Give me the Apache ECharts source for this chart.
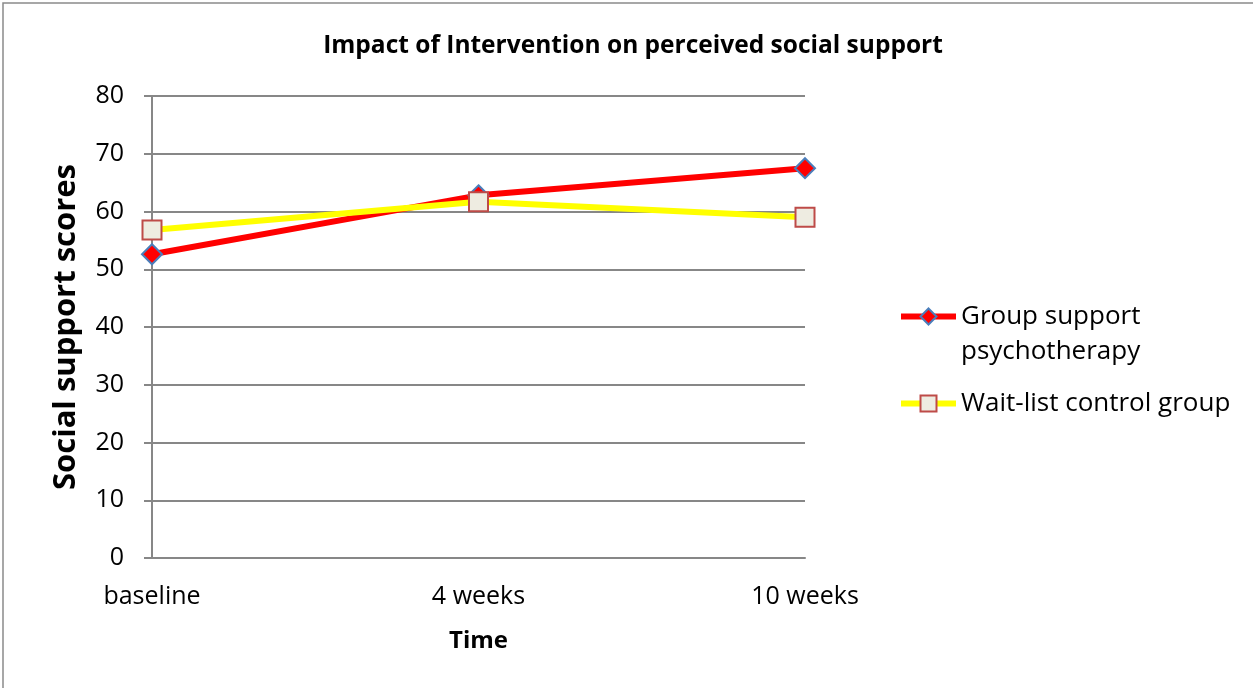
<!DOCTYPE html>
<html>
<head>
<meta charset="utf-8">
<script src="https://cdn.jsdelivr.net/npm/echarts@6/dist/echarts.min.js"></script>
<style>
  html, body { margin: 0; padding: 0; background: #fff; }
  #main { width: 1253px; height: 688px; }
</style>
</head>
<body>
<div id="main"></div>
<script>
var myChart = echarts.init(document.getElementById('main'))

var timePoints = ['baseline', '4 weeks', '10 weeks']
var groupSupport = [52.6, 62.8, 67.5]
var waitList = [56.8, 61.7, 59.0]
var seriesNames = ['Group support psychotherapy', 'Wait-list control group']

var fontName = 'Open Sans'

var option = {
  backgroundColor: '#fff',
  textStyle: { fontFamily: fontName },
  title: {
    text: 'Impact of Intervention on perceived social support',
    left: 628,
    top: 29,
    textAlign: 'center',
    textStyle: { fontSize: 24.5, fontWeight: 'bold', color: '#000', fontFamily: fontName },
  },
  graphic: [
    {
      type: 'rect',
      shape: { x: 3, y: 3, width: 1270, height: 700 },
      style: { fill: 'none', stroke: '#8a8a8a', lineWidth: 1.5 },
      silent: true,
    },
  ],
  legend: {
    orient: 'vertical',
    left: 898,
    top: 264,
    padding: 0,
    itemWidth: 55,
    itemHeight: 20,
    itemGap: 17,
    lineStyle: { width: 6 },
    data: seriesNames,
    // empty first line so the icon sits beside "Group support"
    formatter: function (name) {
      return name === seriesNames[0] ? '\nGroup support\npsychotherapy' : name
    },
    textStyle: { fontSize: 26, color: '#000', lineHeight: 35, fontFamily: fontName },
  },
  grid: { left: 152, right: 448, top: 96, bottom: 130 },
  xAxis: {
    type: 'category',
    data: timePoints,
    boundaryGap: false,
    name: 'Time',
    nameLocation: 'middle',
    nameGap: 71,
    nameTextStyle: { fontSize: 24, fontWeight: 'bold', color: '#000' },
    axisLine: { lineStyle: { color: '#878787', width: 2 } },
    axisTick: { show: false },
    axisLabel: { fontSize: 25, color: '#000', margin: 26 },
  },
  yAxis: {
    type: 'value',
    min: 0,
    max: 80,
    interval: 10,
    name: 'Social support scores',
    nameLocation: 'middle',
    nameRotate: 90,
    nameGap: 70,
    nameTextStyle: { fontSize: 31, fontWeight: 'bold', color: '#000' },
    axisLine: { show: true, lineStyle: { color: '#878787', width: 2 } },
    axisTick: { show: true, length: 8, lineStyle: { color: '#878787', width: 2 } },
    axisLabel: { fontSize: 25, color: '#000', margin: 28 },
    splitLine: { lineStyle: { color: '#878787', width: 2 } },
  },
  series: [
    {
      name: seriesNames[0],
      type: 'line',
      data: groupSupport,
      symbol: 'diamond',
      symbolSize: 20,
      lineStyle: { color: '#ff0000', width: 6 },
      itemStyle: { color: '#ff0000', borderColor: '#4a7ebb', borderWidth: 2 },
      z: 3,
    },
    {
      name: seriesNames[1],
      type: 'line',
      data: waitList,
      symbol: 'rect',
      symbolSize: 19,
      lineStyle: { color: '#ffff00', width: 6 },
      itemStyle: { color: '#eeece1', borderColor: '#be4b48', borderWidth: 2 },
      z: 4,
    },
  ],
}

myChart.setOption(option)
</script>
</body>
</html>
